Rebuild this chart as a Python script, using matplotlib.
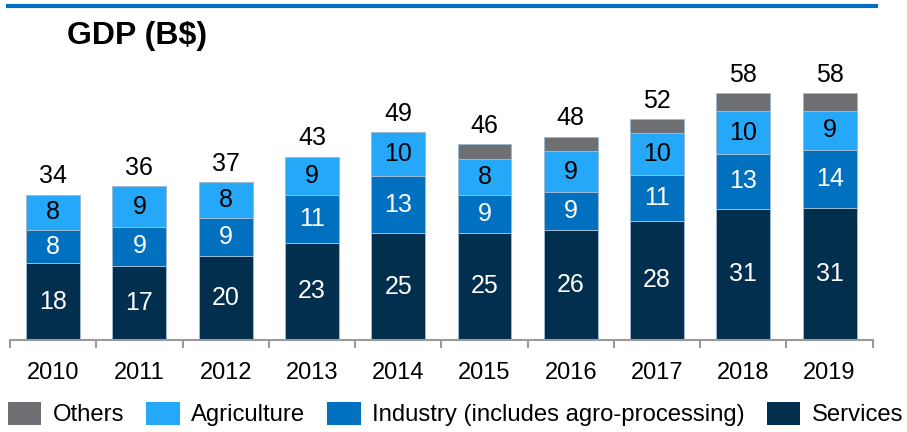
import numpy as np
import matplotlib.pyplot as plt
from matplotlib.lines import Line2D

plt.rcParams['font.family'] = ['Liberation Sans', 'DejaVu Sans']

years = ['2010', '2011', '2012', '2013', '2014', '2015', '2016', '2017', '2018', '2019']
services = [18.0, 17.4, 19.6, 22.8, 25.0, 25.1, 25.7, 28.0, 30.8, 31.0]
industry = [7.7, 9.2, 9.0, 11.2, 13.4, 8.9, 9.1, 10.8, 12.8, 13.6]
agriculture = [8.4, 9.4, 8.4, 9.0, 10.3, 8.4, 9.4, 9.7, 10.1, 9.2]
others = [0, 0, 0, 0, 0, 3.5, 3.5, 3.4, 4.3, 4.2]

c_serv = '#032F4E'
c_ind = '#0070BF'
c_agr = '#26A8F9'
c_oth = '#6E6F73'
edge = '#9DBAD3'

fig = plt.figure(figsize=(9.07, 4.32), dpi=100)
ax = fig.add_axes([10 / 907, 92 / 432, 862.7 / 907, 280 / 432])

x = np.arange(len(years))
w = 0.625
bottom = np.zeros(len(years))
segs = [(services, c_serv, 'white'), (industry, c_ind, 'white'),
        (agriculture, c_agr, 'black'), (others, c_oth, None)]
bars = []
for vals, col, tcol in segs:
    vals = np.array(vals)
    b = ax.bar(x, vals, w, bottom=bottom, color=col, edgecolor=edge, linewidth=0.7)
    bars.append(b)
    if tcol:
        for xi, v, b0 in zip(x, vals, bottom):
            ax.text(xi, b0 + v / 2, f'{round(v)}', ha='center', va='center',
                    color=tcol, fontsize=18)
    bottom = bottom + vals

# totals above each bar
for xi, t in zip(x, bottom):
    ax.annotate(f'{round(t)}', (xi, t), xytext=(0, 8), textcoords='offset points',
                ha='center', va='baseline', fontsize=18, color='black')

ax.set_xlim(-0.5, len(years) - 0.5)
ax.set_ylim(0, 280 / 4.265)
for s in ['top', 'right', 'left']:
    ax.spines[s].set_visible(False)
ax.spines['bottom'].set_color('#9A9A9A')
ax.spines['bottom'].set_linewidth(1.5)
ax.set_yticks([])
ax.set_xticks(x)
ax.set_xticklabels(years, fontsize=17)
ax.tick_params(axis='x', which='major', length=0, pad=16)
ax.set_xticks(np.arange(-0.5, len(years)), minor=True)
ax.tick_params(axis='x', which='minor', length=6, width=1.5, color='#9A9A9A')

# header rule and title
fig.add_artist(Line2D([8 / 907, 876 / 907], [1 - 5.5 / 432] * 2, color='#0070C0',
                      linewidth=3, transform=fig.transFigure))
fig.text(67 / 907, 1 - 36 / 432, 'GDP (B$)', fontsize=23, fontweight='bold',
         va='center', ha='left')

handles = [bars[3], bars[2], bars[1], bars[0]]
labels = ['Others', 'Agriculture', 'Industry (includes agro-processing)', 'Services']
leg = fig.legend(handles, labels, ncol=4, loc='center left',
                 bbox_to_anchor=(8 / 907, 1 - 414 / 432), frameon=False,
                 fontsize=17.2, handlelength=1.4, handleheight=1.1,
                 handletextpad=0.47, columnspacing=0.93, borderpad=0,
                 borderaxespad=0)
for h in leg.legend_handles:
    h.set_edgecolor('none')

fig.savefig('out.png', dpi=100)
